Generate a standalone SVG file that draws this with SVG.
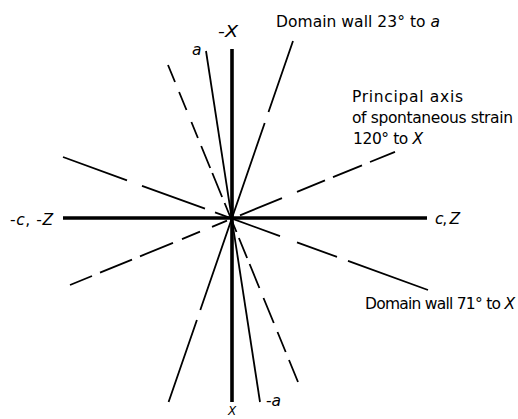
<svg xmlns="http://www.w3.org/2000/svg" width="518" height="419" viewBox="0 0 518 419">
<style>
.axis{stroke:#000;stroke-width:3.6;fill:none;stroke-linecap:butt}
.thin{stroke:#000;stroke-width:1.8;fill:none;stroke-linecap:butt}
text{font-family:"DejaVu Sans","Liberation Sans",sans-serif;font-size:15.5px;fill:#000}
.it{font-style:italic}
</style>
<rect width="518" height="419" fill="#fff"/>
<g id="connectors">
<g id="axes">
<path class="axis" d="M232 49 L232 402"/>
<path class="axis" d="M63 218 L427 218"/>
</g>
<path id="a-line" class="thin" d="M206 51 L260 402"/>
<path id="dashed-near-a" class="thin" d="M168 65L175 82M179.1 92L186.5 110M191.4 122L197.9 138M201.2 146L210.2 168M212.3 173L222.1 197M224.6 203L236.5 232M238.9 238L247.1 258M249.6 264L259.4 288M263.5 298L273.8 323M277.5 332L285.7 352M289 360L298 382"/>
<path id="wall-23" class="thin" d="M293 41L268.5 112M264.7 123L200.3 310M196.9 320L168.6 402"/>
<path id="wall-71" class="thin" d="M63 157L127 180.3M142 185.8L205 208.7M215 212.4L280 236.1M297 242.3L337 256.9M348 260.9L428 290"/>
<path id="principal-axis" class="thin" d="M70 285L92 276M100 272.7L132 259.6M140 256.3L173 242.8M182 239.1L200 231.7M212 226.8L227 220.7M240 215.3L282 198.1M297 191.9L325 180.4M333 177.2L362 165.3M370 162L395 151.8"/>
</g>
<g id="labels">
<text id="lbl-mX" x="218" y="37" textLength="20" lengthAdjust="spacingAndGlyphs">-<tspan class="it">X</tspan></text>
<text id="lbl-a" x="192" y="55" class="it">a</text>
<text id="lbl-ma" x="266" y="406">-<tspan class="it">a</tspan></text>
<text id="lbl-X" x="228" y="415" class="it" style="font-size:12px">X</text>
<text id="lbl-mcmZ" x="10" y="225" textLength="43" lengthAdjust="spacing">-<tspan class="it">c</tspan>, -<tspan class="it">Z</tspan></text>
<text id="lbl-cZ" x="435" y="224" textLength="25" lengthAdjust="spacing"><tspan class="it">c</tspan>, <tspan class="it">Z</tspan></text>
<text id="lbl-wall23" x="276" y="27" textLength="164" lengthAdjust="spacing">Domain wall 23° to <tspan class="it">a</tspan></text>
<text id="lbl-pa1" x="352" y="102" textLength="111" lengthAdjust="spacing">Principal axis</text>
<text id="lbl-pa2" x="352" y="123" textLength="161" lengthAdjust="spacing">of spontaneous strain</text>
<text id="lbl-pa3" x="353" y="144" textLength="70" lengthAdjust="spacing">120° to <tspan class="it">X</tspan></text>
<text id="lbl-wall71" x="365" y="309" textLength="150" lengthAdjust="spacing">Domain wall 71° to <tspan class="it">X</tspan></text>
</g>
</svg>
